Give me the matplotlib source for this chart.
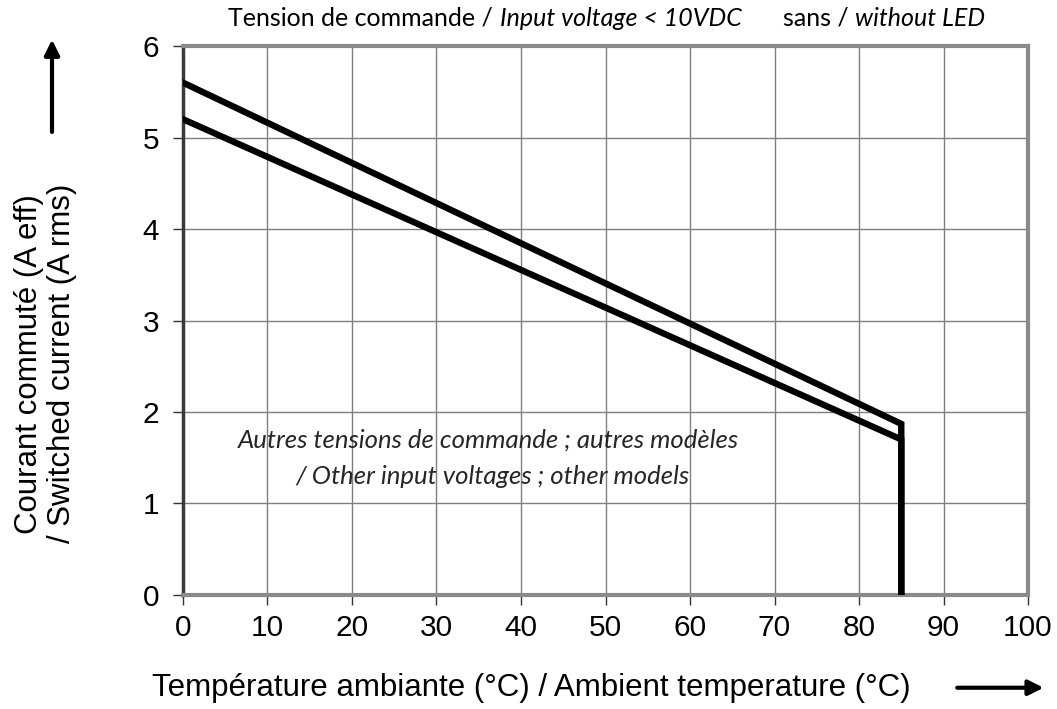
import matplotlib.pyplot as plt
from matplotlib.patches import FancyArrowPatch

# derating curves (temperature in degC, current in A rms)
temp_upper = [0, 85, 85]
current_upper = [5.6, 1.87, 0]
temp_lower = [0, 85, 85]
current_lower = [5.2, 1.7, 0]

x_ticks = list(range(0, 101, 10))
y_ticks = list(range(0, 7))

plt.rcParams['font.family'] = ['Liberation Sans', 'DejaVu Sans']

fig = plt.figure(figsize=(10.57, 7.09), dpi=100)
ax = fig.add_axes([0.1731, 0.1608, 0.7995, 0.7743])

ax.plot(temp_upper, current_upper, color='black', lw=4.6, solid_joinstyle='miter', zorder=3)
ax.plot(temp_lower, current_lower, color='black', lw=4.6, solid_joinstyle='miter', zorder=3)

ax.set_xlim(0, 100)
ax.set_ylim(0, 6)
ax.set_xticks(x_ticks)
ax.set_yticks(y_ticks)
ax.grid(True, color='#7f7f7f', lw=1.0)
ax.set_axisbelow(True)
ax.tick_params(direction='out', length=7, width=1, color='#333333', labelsize=21.5)
ax.tick_params(axis='x', pad=7)
ax.tick_params(axis='y', pad=10)

for side in ['top', 'right', 'bottom']:
    ax.spines[side].set_color('#8a8a8a')
    ax.spines[side].set_linewidth(3)
ax.spines['left'].set_color('#3a3a3a')
ax.spines['left'].set_linewidth(2.5)

# title line (mixed upright / italic pieces)
title_font = ['Lato', 'DejaVu Sans']
title_y = 0.974
fig.text(228 / 1057, title_y, 'Tension de commande /', fontsize=18, family=title_font, ha='left', va='center')
fig.text(500 / 1057, title_y, 'Input voltage < 10VDC', fontsize=18, family=title_font, style='italic', ha='left', va='center')
fig.text(783 / 1057, title_y, 'sans /', fontsize=18, family=title_font, ha='left', va='center')
fig.text(855 / 1057, title_y, 'without LED', fontsize=18, family=title_font, style='italic', ha='left', va='center')

# note inside plot
ax.text(0.3615, 0.2822, 'Autres tensions de commande ; autres modèles',
        transform=ax.transAxes, fontsize=18.5, family=title_font, style='italic',
        color='#262626', ha='center', va='center')
ax.text(0.3656, 0.2167, '/ Other input voltages ; other models',
        transform=ax.transAxes, fontsize=18.5, family=title_font, style='italic',
        color='#262626', ha='center', va='center')

# axis labels
fig.text(0.043, 0.487, 'Courant commuté (A eff)\n/ Switched current (A rms)', rotation=90,
         fontsize=22.5, ha='center', va='center', linespacing=1.1)
fig.text(0.503, 0.030, 'Température ambiante (°C) / Ambient temperature (°C)',
         fontsize=22.5, ha='center', va='center')

# direction arrows
fig.patches.append(FancyArrowPatch((0.0492, 0.81), (0.0492, 0.948), transform=fig.transFigure,
                                   arrowstyle='-|>,head_length=9,head_width=4.5', lw=3, color='black'))
fig.patches.append(FancyArrowPatch((0.903, 0.030), (0.990, 0.030), transform=fig.transFigure,
                                   arrowstyle='-|>,head_length=9,head_width=4.5', lw=3, color='black'))

fig.savefig('out.png', dpi=100)
